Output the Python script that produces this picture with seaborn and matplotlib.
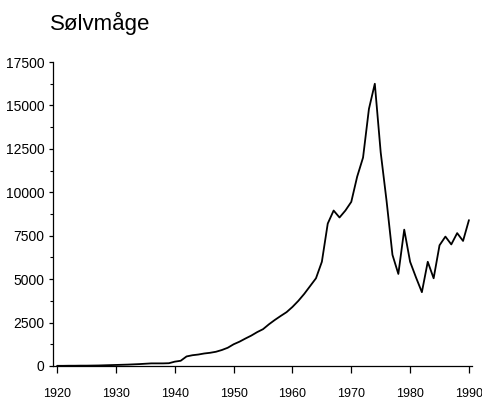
import matplotlib
matplotlib.use("Agg")
import matplotlib.pyplot as plt
import seaborn as sns
import pandas as pd
from matplotlib.ticker import MultipleLocator

# Data (number of pairs per year)
years = list(range(1920, 1991))
pairs = [10, 10, 15, 15, 20, 20, 25, 30, 40, 50,
         60, 70, 80, 95, 110, 130, 150, 150, 150, 160,
         250, 300, 550, 620, 660, 720, 760, 820, 920, 1050,
         1250, 1400, 1580, 1750, 1950, 2120, 2400, 2650, 2880, 3100,
         3400, 3750, 4150, 4600, 5050, 6000, 8200, 8950, 8550, 8950,
         9450, 10900, 12000, 14800, 16250, 12300, 9500, 6400, 5300, 7850,
         6000, 5100, 4250, 6000, 5050, 6950, 7450, 7000, 7650, 7200,
         8400]
title = "Sølvmåge"
y_ticks = [0, 2500, 5000, 7500, 10000, 12500, 15000, 17500]
x_ticks = [1920, 1930, 1940, 1950, 1960, 1970, 1980, 1990]

df = pd.DataFrame({"year": years, "pairs": pairs})

sns.set_style("ticks")
plt.rcParams['font.family'] = ['Liberation Sans', 'DejaVu Sans']

fig = plt.figure(figsize=(4.82, 4.01), dpi=100)
ax = fig.add_axes([0.110, 0.0873, 0.869, 0.758])

sns.lineplot(data=df, x="year", y="pairs", color="black", linewidth=1.3, ax=ax)

ax.set_xlim(1919.3, 1990.5)
ax.set_ylim(0, 17500)
ax.set_xticks(x_ticks)
ax.set_yticks(y_ticks)
ax.yaxis.set_minor_locator(MultipleLocator(1250))
ax.set_xlabel("")
ax.set_ylabel("")

for side in ["top", "right"]:
    ax.spines[side].set_visible(False)
for side in ["left", "bottom"]:
    ax.spines[side].set_linewidth(0.9)
    ax.spines[side].set_color("black")

ax.tick_params(axis="x", length=5, width=0.9, pad=11, labelsize=9, colors="black")
ax.tick_params(axis="y", which="major", length=3, width=0.9, pad=3, labelsize=10, colors="black")
ax.tick_params(axis="y", which="minor", length=2, width=0.8, colors="black")

fig.text(0.104, 0.925, title, fontsize=16, ha="left", va="baseline", color="black")

fig.savefig("out.png", dpi=100)
